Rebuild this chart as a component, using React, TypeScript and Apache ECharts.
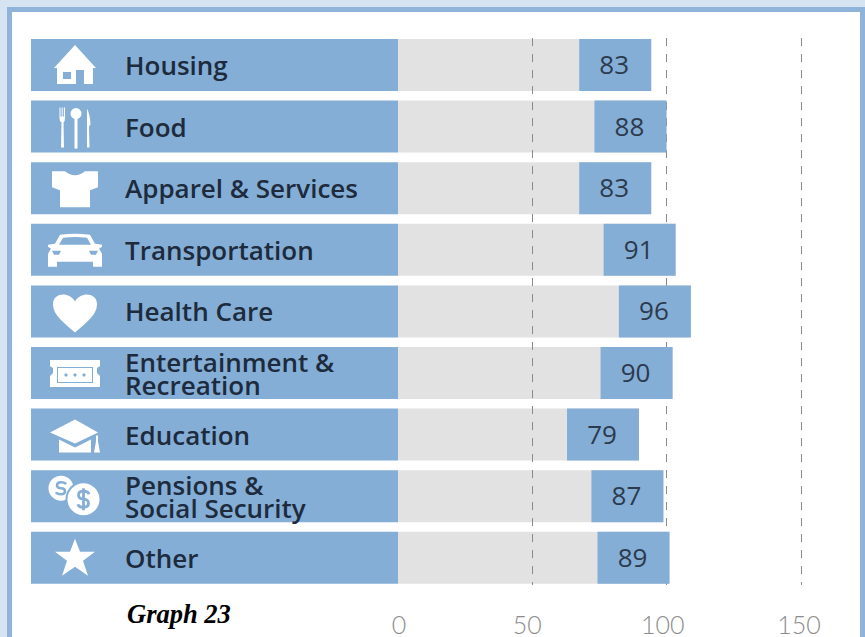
import React, { useEffect, useRef } from "react";
import * as echarts from "echarts";

const categories = ["Housing", "Food", "Apparel & Services", "Transportation", "Health Care", "Entertainment &\nRecreation", "Education", "Pensions &\nSocial Security", "Other"];
const values = [83, 88, 83, 91, 96, 90, 79, 87, 89];
const tickValues = [0, 50, 100, 150];
const panelValues = [1, 1, 1, 1, 1, 1, 1, 1, 1];

const BLUE = "#84aed6";
const WHITE = "#ffffff";
const DARK = "#1d2b3d";

const circle = (cx: number, cy: number, r: number) =>
  `M${cx - r},${cy} A${r},${r} 0 1,0 ${cx + r},${cy} A${r},${r} 0 1,0 ${cx - r},${cy} Z`;

type Part = { d: string; fill?: string; stroke?: string; w?: number };
const iconParts: Part[][] = [
  [
    { d: "M0,-20 L21,3 L18,3 L18,19 L9,19 L9,5 L1,5 L1,19 L-18,19 L-18,3 L-21,3 Z" , fill: WHITE },
    { d: "M-12,7 H-4 V14 H-12 Z", fill: BLUE },
  ],
  [
    { d: "M-15.5,-19 H-14.5 V-10 H-13.3 V-19 H-12.3 V-10 H-11.1 V-19 H-10 V-8 Q-10,-5 -11.5,-4 L-11,21 H-14 L-13.5,-4 Q-15.5,-5 -15.5,-8 Z", fill: WHITE },
    { d: circle(1, -13, 5.5), fill: WHITE },
    { d: "M-0.5,-9 H2.5 L2.5,22 H-0.5 Z", fill: WHITE },
    { d: "M12,-18 Q15,-12 15.5,-2 L14,0 L14.5,21 H12 Z", fill: WHITE },
  ],
  [{ d: "M-23,-17 L-10,-17 Q0,-9 10,-17 L23,-17 L23,-1 L15,2 L15,19 L-15,19 L-15,2 L-23,-1 Z", fill: WHITE }],
  [
    { d: "M-15,-15 Q0,-17 15,-15 L20,-6 L27,-5 L27,-3 L24,-1 L27,4 L27,17 L18,17 L18,12 L-18,12 L-18,17 L-27,17 L-27,4 L-24,-1 L-27,-3 L-27,-5 L-20,-6 Z", fill: WHITE },
    { d: "M-12,-12 Q0,-13.5 12,-12 L16,-5 L-16,-5 Z", fill: BLUE },
    { d: "M-23,1 H-14 L-16,5 H-21 Z", fill: BLUE },
    { d: "M23,1 H14 L16,5 H21 Z", fill: BLUE },
  ],
  [{ d: "M0,21 C-10,12 -22,4 -22,-7 C-22,-19 -6,-20 0,-10 C6,-20 22,-19 22,-7 C22,4 10,12 0,21 Z", fill: WHITE }],
  [
    { d: "M-25,-13 H25 V-7 L22,-5 V0 L25,3 V14 H-25 V3 L-22,0 V-5 L-25,-7 Z", fill: WHITE },
    { d: "M-18,-6 H18 V10 H-18 Z", fill: BLUE },
    { d: "M-17,-5 H17 V9 H-17 Z", fill: WHITE },
    { d: "M-9,0 L-7,2 L-9,4 L-11,2 Z M0,0 L2,2 L0,4 L-2,2 Z M9,0 L11,2 L9,4 L7,2 Z", fill: BLUE },
  ],
  [
    { d: "M0,-15 L23,-2 L0,9 L-25,-2 Z", fill: WHITE },
    { d: "M-16,5 L0,13 L16,5 V18 H-16 Z", fill: WHITE },
    { d: "M21,1 H23 V7 L25,18 H19 L21,7 Z", fill: WHITE },
  ],
  [
    { d: circle(-14, -8, 12.5), fill: WHITE },
    { d: "M-9,-12 Q-10,-14 -14,-14 Q-18,-14 -18,-11 Q-18,-8 -14,-8 Q-10,-8 -10,-5 Q-10,-2 -14,-2 Q-18,-2 -19,-4", stroke: BLUE, w: 2.5 },
    { d: circle(8.5, 3, 18), fill: BLUE },
    { d: circle(8.5, 3, 16), fill: WHITE },
    { d: "M14,-2 Q13,-5 8.5,-5 Q3.5,-5 3.5,-1 Q3.5,2.5 8.5,3 Q13.5,3.5 13.5,7 Q13.5,11 8.5,11 Q3.5,11 3,8 M8.5,-8 V14", stroke: BLUE, w: 2.8 },
  ],
  [{ d: "M0,-19 L5,-6 L20,-6 L8,3 L13,18 L0,9 L-13,18 L-8,3 L-20,-6 L-5,-6 Z", fill: WHITE }],
];

const shapeName = (i: number, j: number) => `icon_${i}_${j}`;
iconParts.forEach((parts, i) =>
  parts.forEach((p, j) => {
    echarts.graphic.registerShape(shapeName(i, j), echarts.graphic.extendPath(p.d, {}));
  })
);

const tickShift: Record<number, number> = { 0: 1, 50: -5, 100: -4, 150: -2 };

export default function App() {
  const ref = useRef<HTMLDivElement>(null);
  useEffect(() => {
    const chart = echarts.init(ref.current!, null, { renderer: "svg" });
    const rowY = { top: 34.2, height: 554.4 };
    chart.setOption({
      animation: false,
      backgroundColor: "#d6e3f1",
      title: {
        text: "Graph 23",
        left: 127,
        top: 600,
        padding: 0,
        textStyle: { fontFamily: "Liberation Serif", fontStyle: "italic", fontWeight: "bold", fontSize: 26.5, color: "#000" },
      },
      graphic: [
        { type: "rect", z: -1, shape: { x: 9.5, y: 9.5, width: 853, height: 700 }, style: { fill: "#fff", stroke: "#8fb3d9", lineWidth: 5 } },
      ],
      grid: [
        { left: 31, width: 367, ...rowY },
        { left: 398, width: 450, ...rowY },
        { left: 398, width: 403, top: 38, height: 547 },
      ],
      xAxis: [
        { gridIndex: 0, type: "value", min: 0, max: 1, show: false },
        { gridIndex: 1, type: "value", min: 0, max: 147.5, show: false },
        {
          gridIndex: 2,
          type: "value",
          min: 0,
          max: 150,
          interval: 50,
          z: 2,
          axisLine: { show: false },
          axisTick: { show: false },
          splitLine: { show: true, showMinLine: false, lineStyle: { color: "#8a8a8a", type: [8, 8], width: 1 } },
          axisLabel: {
            margin: 29,
            color: "#8c8c8c",
            fontFamily: "Lato",
            fontWeight: 300,
            fontSize: 25,
            lineHeight: 20,
            formatter: (v: number) => `{t${v}|${v}}`,
            rich: Object.fromEntries(
              tickValues.map((t) => {
                const s = tickShift[t];
                return [`t${t}`, {
                  fontFamily: "Lato", fontWeight: 300, fontSize: 25, lineHeight: 20, color: "#8c8c8c",
                  padding: s > 0 ? [0, 0, 0, s * 2] : [0, -s * 2, 0, 0],
                }];
              })
            ),
          },
        },
      ],
      yAxis: [
        {
          gridIndex: 0,
          type: "category",
          inverse: true,
          data: categories,
          z: 6,
          axisLine: { show: false },
          axisTick: { show: false },
          axisLabel: {
            inside: true,
            margin: 94,
            align: "left",
            color: DARK,
            fontFamily: "Open Sans",
            fontWeight: 600,
            fontSize: 26,
            lineHeight: 23,
          },
        },
        { gridIndex: 1, type: "category", inverse: true, data: categories, show: false },
        { gridIndex: 2, type: "category", data: categories, show: false },
      ],
      series: [
        {
          name: "Panel",
          type: "bar",
          xAxisIndex: 0,
          yAxisIndex: 0,
          data: panelValues,
          barWidth: 52,
          z: 5,
          silent: true,
          itemStyle: { color: BLUE },
        },
        {
          name: "Icons",
          type: "custom",
          xAxisIndex: 0,
          yAxisIndex: 0,
          z: 7,
          silent: true,
          data: categories.map((_, i) => [0, i]),
          encode: { x: 0, y: 1 },
          renderItem: (_p: any, api: any) => {
            const i = api.value(1);
            const c = api.coord([0, i]);
            return {
              type: "group",
              children: iconParts[i].map((p, j) => ({
                type: shapeName(i, j),
                x: c[0] + 44,
                y: c[1],
                style: p.stroke
                  ? { fill: "none", stroke: p.stroke, lineWidth: p.w }
                  : { fill: p.fill },
              })),
            };
          },
        },
        {
          name: "Share",
          type: "bar",
          xAxisIndex: 1,
          yAxisIndex: 1,
          data: values,
          barWidth: 52,
          z: 1,
          silent: true,
          itemStyle: { color: "#e2e2e2" },
        },
        {
          name: "Value",
          type: "custom",
          xAxisIndex: 1,
          yAxisIndex: 1,
          z: 3,
          silent: true,
          data: values.map((v, i) => [v, i]),
          encode: { x: 0, y: 1 },
          renderItem: (_p: any, api: any) => {
            const v = api.value(0);
            const c = api.coord([v, api.value(1)]);
            const w = 72;
            const h = 52;
            return {
              type: "group",
              children: [
                { type: "rect", shape: { x: c[0] - w, y: c[1] - h / 2, width: w, height: h }, style: { fill: BLUE } },
                {
                  type: "text",
                  x: c[0] - w / 2 - 1,
                  y: c[1] - 1,
                  style: { text: String(v), fill: "#2c3a4e", font: "500 26px 'Open Sans'", align: "center", verticalAlign: "middle" },
                },
              ],
            };
          },
        },
      ],
    });
    return () => chart.dispose();
  }, []);
  return <div ref={ref} style={{ position: "fixed", left: 0, top: 0, width: 865, height: 637 }} />;
}
